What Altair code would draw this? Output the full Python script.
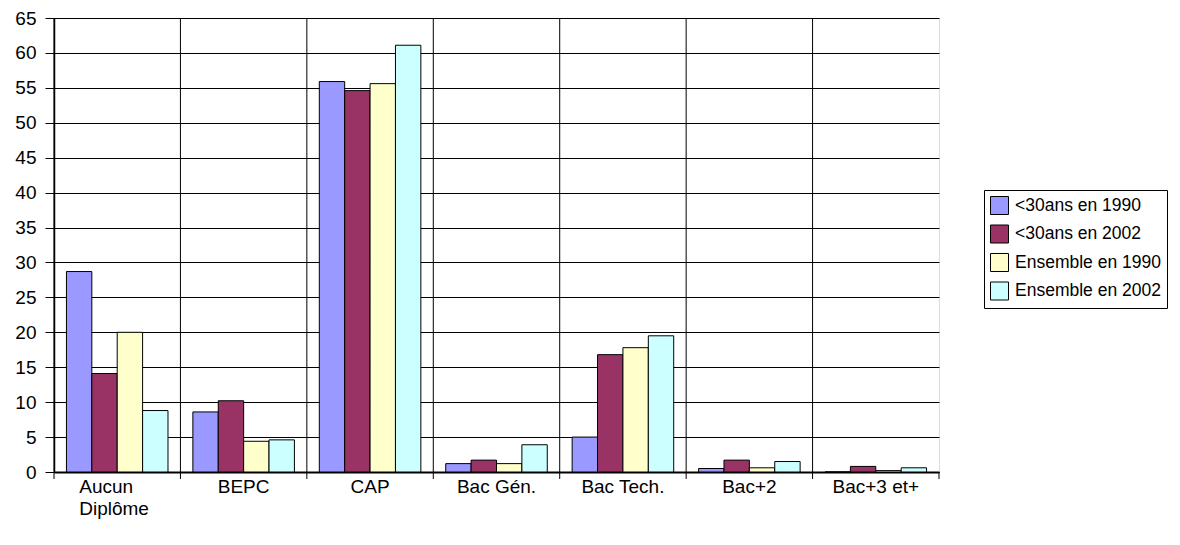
import altair as alt
import pandas as pd

categories = ["Aucun\nDiplôme", "BEPC", "CAP", "Bac Gén.", "Bac Tech.", "Bac+2", "Bac+3 et+"]
series = ["<30ans en 1990", "<30ans en 2002", "Ensemble en 1990", "Ensemble en 2002"]
u30_1990 = [28.7, 8.6, 55.9, 1.2, 5.0, 0.5, 0.0]
u30_2002 = [14.1, 10.2, 54.6, 1.7, 16.8, 1.7, 0.8]
ens_1990 = [20.0, 4.4, 55.6, 1.2, 17.8, 0.6, 0.2]
ens_2002 = [8.8, 4.6, 61.1, 3.9, 19.5, 1.5, 0.6]
colors = ["#9999FF", "#993366", "#FFFFCC", "#CCFFFF"]
y_ticks = list(range(0, 66, 5))

rows = []
for s, vals in zip(series, [u30_1990, u30_2002, ens_1990, ens_2002]):
    for c, v in zip(categories, vals):
        rows.append({"cat": c, "series": s, "value": v})
df = pd.DataFrame(rows)
cat_df = pd.DataFrame({"cat": categories})
last_df = pd.DataFrame({"cat": categories[-1:]})

W, H = 885, 454
FONT = "Liberation Sans"

x_axis = alt.Axis(
    title=None, ticks=False, tickSize=0, grid=False,
    domain=True, domainColor="black", domainWidth=2,
    labelFont=FONT, labelFontSize=19, labelColor="black",
    labelPadding=5, labelAngle=0, labelLineHeight=22,
    labelExpr="split(datum.label, '\\n')",
    labelAlign={"condition": {"test": "indexof(datum.value, '\\n') >= 0", "value": "left"}, "value": "center"},
    labelOffset={"condition": {"test": "indexof(datum.value, '\\n') >= 0", "value": -38}, "value": 0},
)
x_scale = alt.Scale(paddingInner=0, paddingOuter=0)

bars = alt.Chart(df).mark_bar(stroke="black", strokeWidth=1).encode(
    x=alt.X("cat:N", sort=categories, scale=x_scale, axis=x_axis),
    xOffset=alt.XOffset("series:N", sort=series,
                        scale=alt.Scale(paddingInner=0, paddingOuter=0.49)),
    y=alt.Y("value:Q", scale=alt.Scale(domain=[0, 65], nice=False),
            axis=alt.Axis(title=None, values=y_ticks, grid=True, gridColor="black",
                          gridWidth=1, ticks=True, tickColor="black", tickSize=9,
                          tickWidth=1, domain=True, domainColor="black", domainWidth=1.5,
                          labelFont=FONT, labelFontSize=19, labelColor="black",
                          labelPadding=9)),
    color=alt.Color("series:N", sort=series,
                    scale=alt.Scale(domain=series, range=colors),
                    legend=alt.Legend(orient="none", legendX=930, legendY=172,
                                      title=None, symbolType="square", symbolSize=324,
                                      symbolStrokeColor="black", symbolStrokeWidth=1,
                                      labelFont=FONT, labelFontSize=17.5,
                                      labelColor="black", rowPadding=5.5, padding=6,
                                      strokeColor="black", fillColor="white",
                                      labelOffset=6)),
)

rules = alt.Chart(cat_df).mark_rule(color="black", strokeWidth=1).encode(
    x=alt.X("cat:N", sort=categories, scale=x_scale, axis=x_axis, bandPosition=0),
    y=alt.value(0),
    y2=alt.value(H + 7),
)
last_rule = alt.Chart(last_df).mark_rule(color="black", strokeWidth=1).encode(
    x=alt.X("cat:N", sort=categories, scale=x_scale, axis=x_axis, bandPosition=1),
    y=alt.value(H),
    y2=alt.value(H + 7),
)

chart = alt.layer(rules, last_rule, bars).properties(
    width=W, height=H,
    autosize=alt.AutoSizeParams(type="none"),
    padding={"left": 46, "top": 10, "right": 232, "bottom": 60},
).configure_view(stroke="#808080", strokeWidth=1.5).configure(background="white")

chart.save("out.html", embed_options={"renderer": "svg", "actions": False})
